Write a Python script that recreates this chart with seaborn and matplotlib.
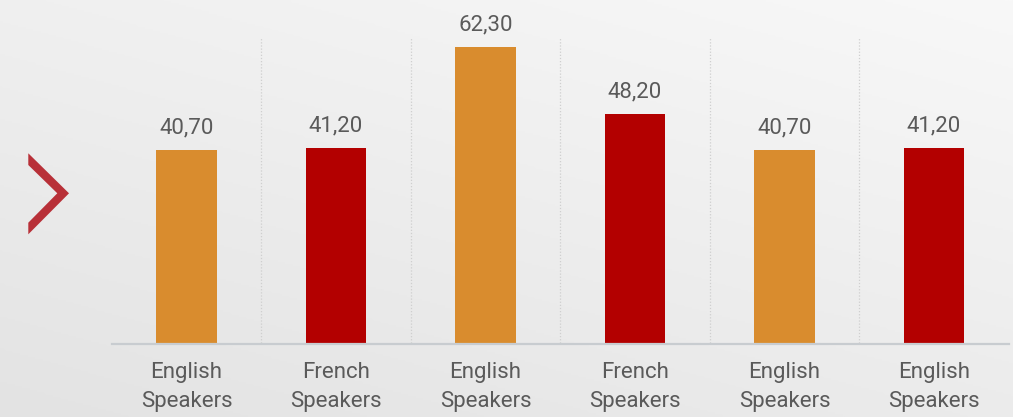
### Imports of the program
import matplotlib
matplotlib.use('Agg')
import matplotlib.pyplot as plt
import numpy as np
import pandas as pd
import seaborn as sns
from matplotlib.patches import Polygon

### Chart data
labels = ['English\nSpeakers', 'French\nSpeakers', 'English\nSpeakers',
          'French\nSpeakers', 'English\nSpeakers', 'English\nSpeakers']
values = [40.70, 41.20, 62.30, 48.20, 40.70, 41.20]
bar_colors = ['#d98c2e', '#b30000', '#d98c2e', '#b30000', '#d98c2e', '#b30000']


def main():
    sns.set_theme(style='white')
    plt.rcParams['font.family'] = ['Roboto', 'DejaVu Sans']

    W, H = 1013, 417
    fig = plt.figure(figsize=(W / 100, H / 100), dpi=100)

    ## background gradient
    bg = fig.add_axes([0, 0, 1, 1], zorder=-5)
    yy, xx = np.mgrid[0:1:200j, 0:1:400j]
    grad = 0.6 * yy + 0.4 * (1 - xx)
    bg.imshow(grad, cmap=sns.blend_palette(['#f8f8f8', '#e3e3e3'], as_cmap=True),
              aspect='auto', extent=[0, 1, 0, 1], origin='upper')
    bg.set_axis_off()

    ## chevron on the left
    pts = [(28.3, 153.3), (69, 193.3), (28.3, 234.3), (28.3, 222.7),
           (57.3, 193.3), (28.3, 165)]
    pts = [(x / W, 1 - y / H) for x, y in pts]
    fig.patches.append(Polygon(pts, closed=True, transform=fig.transFigure,
                               facecolor='#b83038', edgecolor='none'))

    ## main bar chart
    ax = fig.add_axes([111.75 / W, 1 - 344 / H, 897 / W, 344 / H])
    ax.set_facecolor('none')
    df = pd.DataFrame({'pos': range(len(values)), 'value': values})
    sns.barplot(data=df, x='pos', y='value', hue='pos', palette=bar_colors,
                width=0.408, legend=False, saturation=1, linewidth=0,
                edgecolor='none', ax=ax)
    ax.set_ylim(0, 72.2)
    ax.set_xlim(-0.5, len(values) - 0.5)

    ## dotted separators
    ax.vlines([i + 0.5 for i in range(len(values) - 1)], 0.3, 64.2,
              colors='#cfcfcf', linestyles=(0, (1, 1.5)), linewidth=0.9)

    ## value labels
    for i, v in enumerate(values):
        ax.annotate(f'{v:.2f}'.replace('.', ','), (i, v), xytext=(0, 16),
                    textcoords='offset points', ha='center', va='center',
                    fontsize=16, color='#5a5a5a')

    ax.set_xticks(range(len(values)))
    ax.set_xticklabels(labels, fontsize=16, color='#5a5a5a', linespacing=1.5)
    ax.tick_params(axis='x', length=0, pad=13)
    ax.set_yticks([])
    ax.set_xlabel('')
    ax.set_ylabel('')
    sns.despine(ax=ax, left=True)
    ax.spines['bottom'].set_color('#c8ccd0')
    ax.spines['bottom'].set_linewidth(1.6)

    fig.savefig('out.png', dpi=100)


if __name__ == '__main__':
    main()
